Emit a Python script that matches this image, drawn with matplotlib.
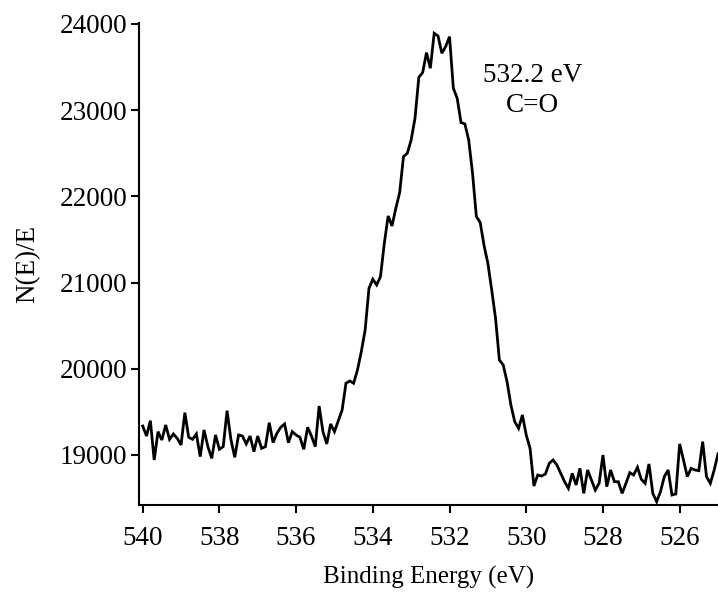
import numpy as np
import matplotlib
matplotlib.use("Agg")
import matplotlib.pyplot as plt

plt.rcParams['font.family'] = ['Liberation Serif', 'DejaVu Serif']

# Binding energy axis: 540.0 down to 525.0 eV, step 0.1 eV
energy_start = 540.0
energy_step = 0.1
intensity = [
    19336, 19220, 19398, 18942, 19271, 19174, 19348, 19182, 19244, 19193,
    19116, 19491, 19205, 19182, 19244, 18981, 19290, 19097, 18961, 19232,
    19066, 19097, 19514, 19182, 18973, 19232, 19220, 19128, 19220, 19039,
    19220, 19077, 19097, 19375, 19143, 19252, 19321, 19360, 19143, 19271,
    19232, 19205, 19066, 19321, 19220, 19097, 19568, 19271, 19128, 19360,
    19271, 19398, 19522, 19832, 19858, 19832, 19986, 20199, 20450, 20933,
    21038, 20972, 21069, 21456, 21772, 21656, 21861, 22043, 22460, 22500,
    22654, 22906, 23381, 23435, 23667, 23485, 23891, 23860, 23659, 23737,
    23852, 23253, 23137, 22855, 22840, 22654, 22267, 21766, 21697, 21430,
    21223, 20914, 20585, 20102, 20044, 19850, 19580, 19387, 19309, 19464,
    19232, 19077, 18640, 18768, 18756, 18780, 18903, 18942, 18884, 18787,
    18690, 18613, 18787, 18652, 18845, 18555, 18826, 18710, 18594, 18671,
    19000, 18633, 18826, 18690, 18690, 18555, 18671, 18795, 18768, 18857,
    18718, 18671, 18896, 18555, 18459, 18574, 18749, 18826, 18536, 18548,
    19128, 18942, 18749, 18845, 18826, 18818, 19155, 18749, 18671, 18826,
    19012,
]
energy = energy_start - energy_step * np.arange(len(intensity))

x_ticks = [540, 538, 536, 534, 532, 530, 528, 526]
y_ticks = [19000, 20000, 21000, 22000, 23000, 24000]
x_label = "Binding Energy (eV)"
y_label = "N(E)/E"
annotation = "532.2 eV\nC=O"

fig = plt.figure(figsize=(7.18, 5.93), dpi=100)
ax = fig.add_axes([139/718, 88/593, 1 - 139/718, (505-23)/593])

ax.plot(energy, intensity, color='black', lw=2.0, solid_joinstyle='miter')

ax.set_xlim(540.096, 525.0)
ax.set_ylim(18420, 24010)
ax.set_xticks(x_ticks)
ax.set_yticks(y_ticks)
ax.set_xticklabels([str(v) for v in x_ticks])
ax.set_yticklabels([str(v) for v in y_ticks])

for s in ['top', 'right']:
    ax.spines[s].set_visible(False)
for s in ['left', 'bottom']:
    ax.spines[s].set_linewidth(1.5)

ax.tick_params(axis='both', direction='out', length=5.5, width=1.5,
               labelsize=19.5, colors='black')
ax.tick_params(axis='x', pad=9.5)
ax.tick_params(axis='y', pad=3)

ax.set_xlabel(x_label, fontsize=18, labelpad=11)
ax.set_ylabel(y_label, fontsize=19.5, labelpad=14)

ax.text(0.68, 0.86, annotation, transform=ax.transAxes, ha='center',
        va='center', fontsize=19.5, linespacing=1.3)

fig.savefig("out.png", dpi=100)
